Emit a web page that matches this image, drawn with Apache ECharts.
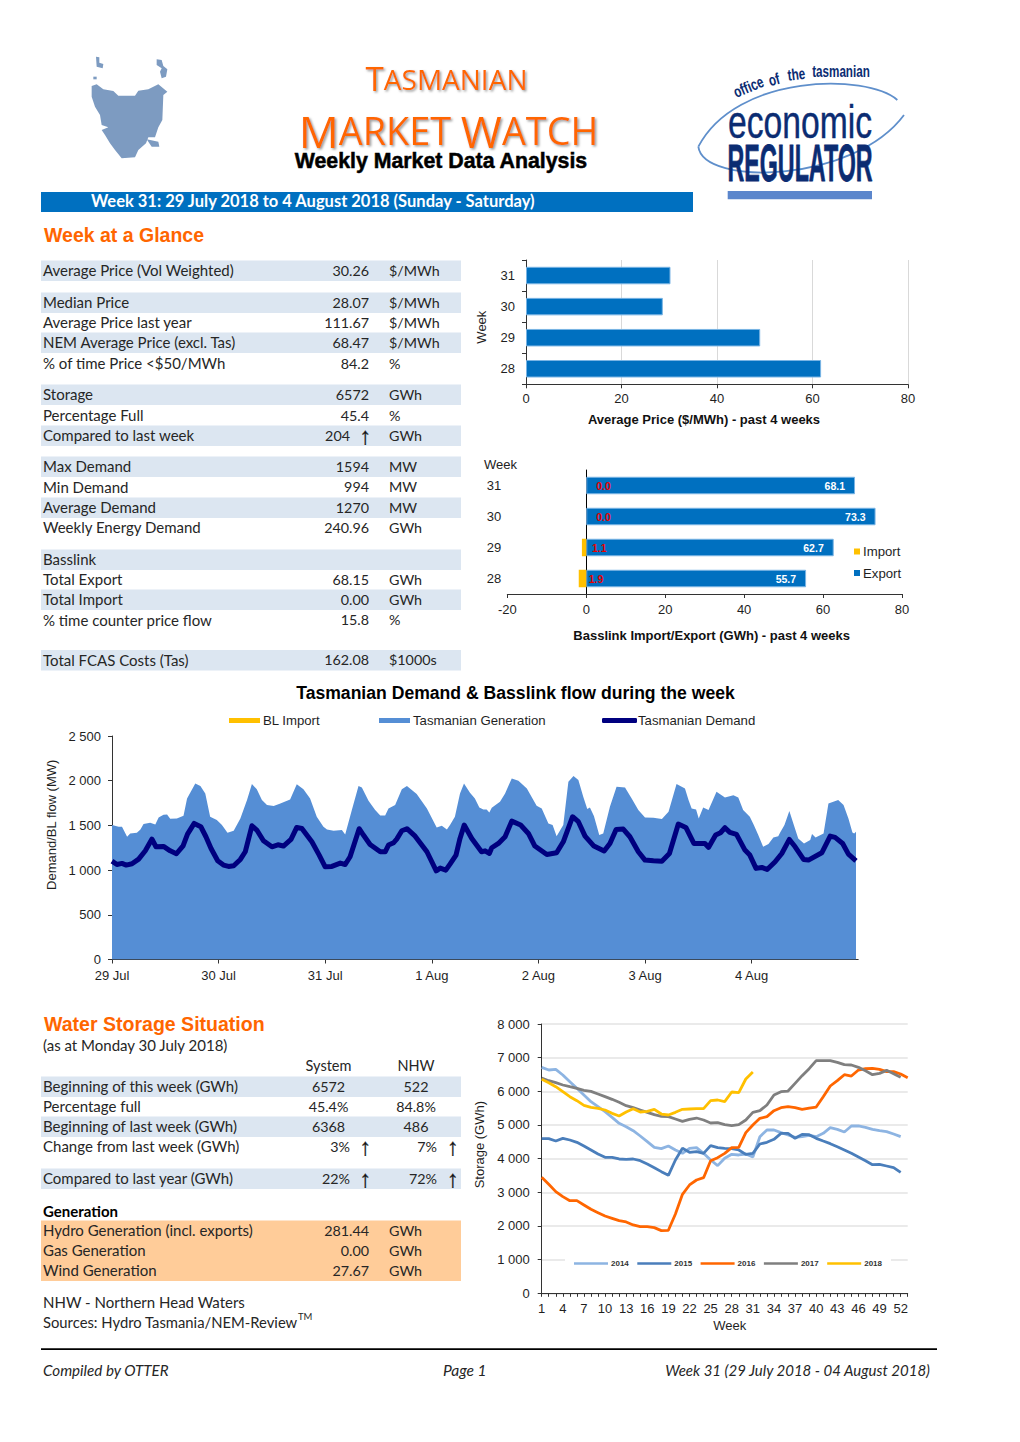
<!DOCTYPE html>
<html><head><meta charset="utf-8">
<style>html,body{margin:0;padding:0;background:#fff}#c{width:1020px;height:1442px}</style>
<script src="https://cdn.jsdelivr.net/npm/echarts@6/dist/echarts.min.js"></script>
</head><body><div id="c"></div>
<script>
// ---------- data ----------
const priceWeeks = ['28','29','30','31'];
const priceValues = [61.8, 49.05, 28.65, 30.26];
const basslinkWeeks = ['28','29','30','31'];
const importValues = [-1.9, -1.1, 0, 0];
const importLabels = ['1.9','1.1','0.0','0.0'];
const exportValues = [55.7, 62.7, 73.3, 68.1];
const dayLabels = ['29 Jul','30 Jul','31 Jul','1 Aug','2 Aug','3 Aug','4 Aug'];
const dayStartHours = [0,24,48,72,96,120,144];
const genHours = [0,1.5,2.25,3.4,4.1,5.6,6.4,7.1,8.6,9.75,10.5,11.6,12.4,13.1,14.6,16.1,16.9,18.75,19.9,21,22.1,23.6,24.75,26,27.4,28.9,30.4,31.5,32.6,33.75,34.9,36.4,37.9,40.1,41.6,43.1,44.6,46.1,47.6,48.4,49.9,51.75,52.5,54,55.5,56.25,57.75,59.25,60.4,61.5,62.25,63.75,65.25,66.4,68.6,70.9,73.1,74.25,75.4,76.1,77.2,78.35,79.25,80.6,81.7,82.7,83.6,84.35,84.95,85.5,87.35,88.5,90,91.5,93.4,95.6,96.75,98.25,99.2,100.1,101.6,102.75,103.9,105,106.1,107,107.6,108.5,109.7,110.6,112.1,113.6,115.5,117,118.5,120,121.9,123.8,125.3,127.1,129,129.8,130.5,131.5,132.1,133.1,134.3,136.1,138,139.9,141,142.1,143.6,144.5,145.5,146.6,147.8,148.9,150,150.4,151.4,152.5,153.4,154.5,155.8,157.2,157.6,158.4,160.2,161.3,163.5,164.7,165.8,166.7,167.1,167.5];
const genMW = [1504,1485,1485,1373,1410,1418,1455,1515,1530,1511,1589,1619,1623,1574,1578,1608,1802,1970,1940,1858,1597,1560,1504,1418,1440,1578,1783,1962,1903,1783,1727,1716,1746,1791,1959,1903,1802,1597,1485,1455,1440,1448,1399,1671,1940,1925,1776,1671,1612,1612,1690,1727,1903,1940,1851,1690,1477,1496,1455,1504,1597,1858,1970,1865,1802,1701,1679,1679,1645,1698,1765,1858,2026,2000,1914,1720,1690,1522,1504,1380,1504,1989,2052,2007,1821,1683,1701,1604,1392,1410,1709,1933,1925,1802,1671,1589,1586,1571,1653,1962,1914,1783,1690,1679,1578,1701,1671,1877,1813,1836,1813,1671,1597,1504,1392,1261,1291,1366,1380,1418,1504,1660,1522,1354,1298,1336,1403,1366,1410,1746,1783,1727,1578,1421,1410,1429];
const demandHours = [0,1.1,2.25,3.2,4.5,6,7.5,9,9.9,11.6,13.1,14.5,16,17,18.5,20,21.15,22.3,23.8,25.1,26.25,27.4,28.9,30,31.5,32.6,34.1,36,37.35,38.6,40.3,41.6,42.75,45,46.65,48,49.5,51.4,52.5,53.6,55.65,56.6,58.1,60.4,61.5,62.25,63.4,64.1,65.25,66.4,68.25,70.9,73,73.9,75.15,76.1,77.45,78.35,79.3,81,83.2,84,84.95,85.5,87,88.5,90,92,93.75,95.2,97.9,100.1,101.6,103.7,105,106.5,108.5,110.8,112.1,113.5,115.1,116.6,118.5,120,121.9,123.8,125.5,127.5,129.2,131,133.5,134.3,135.9,137,138,139.1,140.6,142.5,143.6,145,146.3,147.5,149.3,150.8,152.5,153.8,155.7,156.8,159.8,161.7,162.8,164.5,165.8,167.5];
const demandMW = [1100,1063,1075,1056,1071,1123,1216,1347,1261,1265,1216,1183,1272,1403,1522,1485,1373,1242,1104,1056,1041,1048,1119,1205,1496,1448,1328,1261,1283,1269,1343,1477,1466,1317,1168,1037,1041,1078,1063,1149,1463,1392,1287,1205,1205,1280,1306,1347,1440,1463,1380,1205,992,1022,1000,1067,1168,1354,1504,1354,1205,1216,1186,1250,1298,1373,1548,1504,1410,1269,1175,1194,1317,1597,1541,1380,1269,1213,1298,1455,1459,1373,1205,1112,1104,1100,1186,1515,1477,1298,1298,1254,1392,1418,1474,1422,1399,1224,1168,1019,1030,1007,1093,1186,1343,1261,1119,1112,1194,1380,1366,1298,1179,1104];
const weeks = ['1','2','3','4','5','6','7','8','9','10','11','12','13','14','15','16','17','18','19','20','21','22','23','24','25','26','27','28','29','30','31','32','33','34','35','36','37','38','39','40','41','42','43','44','45','46','47','48','49','50','51','52','53'];
const storage2014 = [6712,6633,6653,6485,6287,6089,5891,5693,5544,5396,5227,5049,4950,4831,4673,4505,4336,4297,4376,4257,4158,4307,4326,4158,3960,3792,4010,4128,4109,4138,4049,4653,4851,4851,4772,4703,4633,4653,4693,4653,4752,4920,4871,4792,4970,4970,4930,4871,4831,4802,4732,4653];
const storage2015 = [4594,4594,4524,4604,4554,4485,4376,4257,4138,4039,4039,3990,3980,3990,3940,3841,3732,3614,3505,3960,4307,4188,4208,4158,4386,4326,4307,4297,4257,4128,4158,4435,4485,4574,4752,4752,4604,4722,4712,4604,4524,4445,4356,4257,4158,4049,3940,3821,3831,3782,3732,3594];
const storage2016 = [3445,3237,3020,2871,2752,2752,2624,2495,2396,2297,2228,2158,2119,2030,1980,1980,1950,1861,1871,2356,2940,3218,3366,3435,3940,4029,4158,4326,4336,4772,5000,5198,5247,5425,5514,5544,5514,5465,5504,5534,5841,6158,6316,6494,6455,6633,6673,6683,6653,6584,6584,6514,6405];
const storage2017 = [6395,6316,6257,6188,6138,6089,6029,5999,5920,5841,5762,5673,5574,5514,5445,5376,5306,5257,5247,5178,5108,5168,5207,5148,5059,5069,5009,4980,5009,5148,5376,5425,5594,5891,5990,6009,6237,6465,6673,6910,6910,6910,6861,6791,6782,6712,6613,6494,6534,6623,6524,6415];
const storage2018 = [6356,6257,6138,5990,5841,5722,5584,5524,5495,5445,5346,5267,5386,5485,5386,5405,5465,5326,5297,5376,5465,5475,5485,5485,5722,5742,5693,5980,5960,6366,6572];

const glanceLabels = ['Average Price (Vol Weighted)','Median Price','Average Price last year','NEM Average Price (excl. Tas)','% of time Price <$50/MWh','Storage','Percentage Full','Compared to last week','Max Demand','Min Demand','Average Demand','Weekly Energy Demand','Basslink','Total Export','Total Import','% time counter price flow','Total FCAS Costs (Tas)'];
const glanceValues = ['30.26','28.07','111.67','68.47','84.2','6572','45.4','204','1594','994','1270','240.96','','68.15','0.00','15.8','162.08'];
const glanceUnits = ['$/MWh','$/MWh','$/MWh','$/MWh','%','GWh','%','GWh','MW','MW','MW','GWh','','GWh','GWh','%','$1000s'];
const waterLabels = ['Beginning of this week (GWh)','Percentage full','Beginning of last week (GWh)','Change from last week (GWh)','Compared to last year (GWh)'];
const waterSystem = ['6572','45.4%','6368','3%','22%'];
const waterNHW = ['522','84.8%','486','7%','72%'];
const genLabels = ['Hydro Generation (incl. exports)','Gas Generation','Wind Generation'];
const genValues = ['281.44','0.00','27.67'];

// ---------- layout and styles ----------
const glanceY = [271,303,323,343,364,395,416,436,467,487.5,508,528,560,580,600,620.5,660.5];
const glanceBand = [1,1,0,1,0,1,0,1,1,0,1,0,1,0,1,0,1];
const waterY = [1087,1107,1127,1147,1179];
const waterBand = [1,0,1,0,1];
const genY = [1231,1251,1271];
const ARIAL = '"Liberation Sans", Arial, sans-serif';
const BODY = 'Lato, sans-serif';
const NARROW = '"Liberation Sans", sans-serif';
const ORANGE = '#FF6600', BLUE = '#0070C0', NAVY = '#0B2C72', BAND = '#DCE6F1', INK = '#262626';
const BODY_SIZE = 15, NUM_SIZE = 14.3;

const els = [];
function T(text, x, y, o) {
  o = o || {};
  const st = {text, fontSize:o.size||BODY_SIZE, fontFamily:o.family||BODY, fontWeight:o.weight||'normal',
    fontStyle:o.italic?'italic':'normal', fill:o.color||INK, align:o.align||'left', verticalAlign:'middle'};
  if (o.rich) st.rich = o.rich;
  if (o.lineHeight) st.lineHeight = o.lineHeight;
  if (o.shadow) { st.textShadowColor=o.shadow; st.textShadowBlur=2; st.textShadowOffsetX=1.5; st.textShadowOffsetY=1.5; }
  if (o.stroke) { st.stroke=o.stroke; st.lineWidth=o.strokeW||0.3; }
  els.push({type:'text', x, y, rotation:o.rot||0, scaleX:o.sx||1, scaleY:o.sy||1, silent:true, z:10, style:st});
}
const N = (text,x,y,o)=>T(text,x,y-0.7,Object.assign({size:NUM_SIZE},o||{}));
const L = (text,x,y,o)=>T(text,x,y-0.7,o);
function R(x,y,w,h,fill,z){ els.push({type:'rect', silent:true, z:z||1, shape:{x,y,width:w,height:h}, style:{fill}}); }
function P(points, fill){ els.push({type:'polygon', silent:true, z:2, shape:{points}, style:{fill}}); }
function B(x1,y1,x2,y2,cx1,cy1,cx2,cy2,w){ els.push({type:'bezierCurve', silent:true, z:2, shape:{x1,y1,x2,y2,cpx1:cx1,cpy1:cy1,cpx2:cx2,cpy2:cy2}, style:{stroke:'#5F8FCB',fill:'none',lineWidth:w}}); }

// header: map logo
const mp = a => a.map(p=>[80+p[0]/3,50+p[1]/3]);
const MAPC = '#7D9BC1';
P(mp([[35,108],[50,103],[70,118],[100,123],[115,137],[165,137],[175,122],[205,118],[235,103],[262,125],[250,135],[247,210],[235,232],[225,262],[205,262],[198,280],[175,300],[165,322],[125,325],[105,300],[90,280],[75,255],[65,240],[85,232],[65,225],[60,195],[45,170],[35,140]]),MAPC);
P(mp([[200,268],[235,275],[238,290],[215,290]]),MAPC);
P(mp([[48,20],[58,22],[58,38],[70,42],[68,55],[50,50]]),MAPC);
P(mp([[230,28],[245,30],[250,48],[262,58],[258,80],[245,85],[240,65],[245,55],[230,45]]),MAPC);
P(mp([[40,80],[50,80],[50,88],[40,88]]),MAPC);

// title
T('{a|T}{b|ASMANIAN}',446.5,78.5,{align:'center',family:'"Open Sans"',color:ORANGE,shadow:'#999',
  rich:{a:{fontSize:33.2,fontFamily:'"Open Sans"',color:ORANGE},b:{fontSize:28,fontFamily:'"Open Sans"',color:ORANGE}}});
T('{a|M}{b|ARKET }{a|W}{b|ATCH}',448.5,130.5,{align:'center',family:'"Open Sans"',color:ORANGE,shadow:'#999',
  rich:{a:{fontSize:44.6,fontFamily:'"Open Sans"',color:ORANGE,lineHeight:36},b:{fontSize:37.8,fontFamily:'"Open Sans"',color:ORANGE,lineHeight:36}}});
T('Weekly Market Data Analysis',441,161,{align:'center',family:ARIAL,weight:'bold',size:21.3,color:'#000',stroke:'#000',strokeW:0.5,lineHeight:18});

// regulator logo
const lx = v=>680+v/3, ly = v=>50+v/3;
B(lx(652),ly(150),lx(55),ly(290),lx(560),ly(70),lx(170),ly(70),1.8);
B(lx(55),ly(290),lx(672),ly(195),lx(70),ly(410),lx(520),ly(400),1.8);
const small={family:NARROW,weight:'bold',size:16,color:NAVY,align:'center',sx:0.73};
T('office',lx(205),ly(110),Object.assign({rot:0.40},small));
T('of',lx(282),ly(88),Object.assign({rot:0.27},small));
T('the',lx(349),ly(72),Object.assign({rot:0.12},small));
T('tasmanian',lx(483),ly(64),Object.assign({rot:0},small));
T('economic',lx(360),ly(217),{family:NARROW,size:44,color:NAVY,align:'center',sx:0.765,sy:1.05,stroke:NAVY,strokeW:0.4,lineHeight:34});
T('REGULATOR',lx(360),ly(342),{family:NARROW,weight:'bold',size:52,color:NAVY,align:'center',sx:0.447,stroke:NAVY,strokeW:0.8,lineHeight:38});
R(727.7,191,144.3,8.3,'#5B86CC');

// banner and headings
R(41,192,652,20,BLUE);
T('Week 31: 29 July 2018 to 4 August 2018 (Sunday - Saturday)',91,201,{weight:'bold',color:'#fff',size:16.5});
T('Week at a Glance',44,235,{family:ARIAL,weight:'bold',size:19.5,color:ORANGE});
T('Tasmanian Demand & Basslink flow during the week',515.5,693,{family:ARIAL,weight:'bold',size:17.6,color:'#000',align:'center'});
T('Water Storage Situation',44,1023.5,{family:ARIAL,weight:'bold',size:19.55,color:ORANGE});
L('(as at Monday 30 July 2018)',43,1045.5);
T('Week',484,464.5,{family:ARIAL,size:13,color:'#222'});

function arrow(x,y){ T('↑',x,y,{family:ARIAL,size:24,color:'#111',align:'center',stroke:'#111',strokeW:0.3,lineHeight:14}); }

// Week at a Glance table
glanceLabels.forEach((lab,i)=>{
  const y=glanceY[i];
  if(glanceBand[i]) R(41,y-10.5,420,20.5,BAND);
  L(lab,43,y);
  const hasArrow = lab==='Compared to last week';
  if(glanceValues[i]) N(glanceValues[i],hasArrow?350:369,y,{align:'right'});
  if(hasArrow) arrow(365.5,y-0.5);
  if(glanceUnits[i]) N(glanceUnits[i],389,y);
});
// Water storage table
L('System',328.5,1066.5,{align:'center',size:14.5});
L('NHW',416,1066.5,{align:'center',size:14.5});
waterLabels.forEach((lab,i)=>{
  const y=waterY[i];
  if(waterBand[i]) R(41,y-10.5,420,20.5,BAND);
  L(lab,43,y);
  if(i<3){ N(waterSystem[i],328.5,y,{align:'center'}); N(waterNHW[i],416,y,{align:'center'}); }
  else { N(waterSystem[i],350,y,{align:'right'}); N(waterNHW[i],437,y,{align:'right'}); arrow(365.5,y-0.5); arrow(453,y-0.5); }
});
L('Generation',43,1211.5,{weight:'bold',color:'#000'});
R(41,1220.5,420,60.5,'#FFCC99');
genLabels.forEach((lab,i)=>{
  L(lab,43,genY[i]); N(genValues[i],369,genY[i],{align:'right'}); N('GWh',389,genY[i]);
});
L('NHW - Northern Head Waters',43,1302.5);
L('Sources: Hydro Tasmania/NEM-Review',43,1322.5,{size:14.8});
T('TM',298,1316,{size:9.5,lineHeight:9});
// footer
R(41,1348.3,896,1.6,'#000');
L('Compiled by OTTER',43,1371,{italic:true,size:15.2});
L('Page 1',443,1371,{italic:true,size:15.6});
L('Week 31 (29 July 2018 - 04 August 2018)',930,1371,{italic:true,align:'right'});

// ---------- charts ----------
const AXC='#333', LAB='#1f1f1f', FS=13;
const axisLine={show:true,lineStyle:{color:AXC,width:1}};
const tick={show:true,length:4,lineStyle:{color:AXC,width:1}};
const lab=(o)=>Object.assign({show:true,fontFamily:ARIAL,fontSize:FS,color:LAB},o||{});
const nameS=(o)=>Object.assign({fontFamily:ARIAL,fontSize:FS,color:LAB},o||{});
const titleS=(o)=>Object.assign({fontFamily:ARIAL,fontSize:13,fontWeight:'bold',color:'#111'},o||{});
const sp=v=>String(v).replace(/\B(?=(\d{3})+$)/g,' ');
const barBorder={borderColor:'#79B4E4',borderWidth:1};
const pairs=(a,b)=>a.map((v,i)=>[v,b[i]]);
const legendText=(pad)=>({fontFamily:ARIAL,fontSize:13.2,color:LAB,padding:[0,0,0,pad]});

const option={
  animation:false,
  textStyle:{fontFamily:ARIAL},
  grid:[
    {left:526,top:260,width:382,height:124.3,outerBoundsMode:'none'},
    {left:507.3,top:470,width:394.7,height:124,outerBoundsMode:'none'},
    {left:112,top:736,width:746.2,height:223.5,outerBoundsMode:'none'},
    {left:541.7,top:1024,width:366,height:269.3,outerBoundsMode:'none'}
  ],
  xAxis:[
    {gridIndex:0,type:'value',min:0,max:80,interval:20,axisLine,axisTick:tick,axisLabel:lab({margin:8}),
     splitLine:{show:true,lineStyle:{color:'#D9D9D9',width:1}},
     name:'Average Price ($/MWh) - past 4 weeks',nameLocation:'middle',nameGap:28.5,nameTextStyle:titleS({padding:[0,26,0,0]})},
    {gridIndex:1,type:'value',min:-20,max:80,interval:20,axisLine,axisTick:tick,axisLabel:lab({margin:9}),splitLine:{show:false},
     name:'Basslink Import/Export (GWh) - past 4 weeks',nameLocation:'middle',nameGap:35,nameTextStyle:titleS({padding:[0,0,0,14]})},
    {gridIndex:2,type:'value',min:0,max:168,interval:24,axisLine,axisTick:Object.assign({customValues:dayStartHours},tick),
     axisLabel:lab({margin:9,customValues:dayStartHours,formatter:v=>dayLabels[v/24]||''}),splitLine:{show:false}},
    {gridIndex:3,type:'category',data:weeks,boundaryGap:false,axisLine,axisTick:{show:true,length:3.5,interval:0,lineStyle:{color:AXC,width:1}},
     axisLabel:lab({margin:9,interval:2}),splitLine:{show:false},
     name:'Week',nameLocation:'middle',nameGap:26,nameTextStyle:nameS({padding:[0,0,0,10]})}
  ],
  yAxis:[
    {gridIndex:0,type:'category',data:priceWeeks,axisLine,axisTick:tick,axisLabel:lab({margin:11}),
     name:'Week',nameLocation:'middle',nameGap:38,nameTextStyle:nameS({padding:[0,10,0,0]})},
    {gridIndex:1,type:'category',data:basslinkWeeks,axisLine:{show:true,onZero:true,lineStyle:{color:'#000',width:1}},axisTick:{show:false},axisLabel:lab({margin:6})},
    {gridIndex:2,type:'value',min:0,max:2500,interval:500,axisLine,axisTick:tick,axisLabel:lab({margin:11,formatter:sp}),splitLine:{show:false},
     name:'Demand/BL flow (MW)',nameLocation:'middle',nameGap:44,nameTextStyle:nameS({padding:[0,0,0,46]})},
    {gridIndex:3,type:'value',min:0,max:8000,interval:1000,axisLine,axisTick:tick,axisLabel:lab({margin:12,formatter:sp}),
     splitLine:{show:true,lineStyle:{color:'#E3E3E3',width:1.5}},
     name:'Storage (GWh)',nameLocation:'middle',nameGap:56,nameTextStyle:nameS({padding:[0,0,0,28]})}
  ],
  legend:[
    {left:854,top:545,orient:'vertical',itemWidth:6,itemHeight:6,itemGap:8.5,padding:0,icon:'rect',itemStyle:{borderWidth:0},
     data:['Import','Export'],textStyle:legendText(-2)},
    {left:229,top:714,itemWidth:31,itemHeight:5,padding:0,icon:'rect',data:['BL Import'],textStyle:legendText(-2)},
    {left:379,top:714,itemWidth:31,itemHeight:5,padding:0,icon:'rect',data:['Tasmanian Generation'],textStyle:legendText(-2)},
    {left:602,top:714,itemWidth:35,itemHeight:5,padding:0,icon:'roundRect',data:['Tasmanian Demand'],textStyle:legendText(-4)},
    {left:565,top:1257.5,itemWidth:34,itemHeight:2.7,itemGap:8.5,padding:[2,9],icon:'rect',backgroundColor:'#fff',
     data:['2014','2015','2016','2017','2018'],textStyle:{fontFamily:ARIAL,fontSize:8,fontWeight:'bold',color:'#333',padding:[0,0,0,-2]}}
  ],
  series:[
    {name:'Average Price',type:'bar',xAxisIndex:0,yAxisIndex:0,data:priceValues,barWidth:17.5,itemStyle:Object.assign({color:BLUE},barBorder)},
    {name:'Export',type:'bar',xAxisIndex:1,yAxisIndex:1,data:exportValues,barWidth:17.5,barGap:'-100%',z:2,itemStyle:Object.assign({color:BLUE},barBorder),
     label:{show:true,position:'insideRight',distance:10,color:'#fff',fontFamily:ARIAL,fontSize:10.5,fontWeight:'bold',formatter:p=>p.value.toFixed(1)}},
    {name:'Import',type:'bar',xAxisIndex:1,yAxisIndex:1,data:importValues,barWidth:17.5,barGap:'-100%',z:3,itemStyle:{color:'#FFC000'},
     label:{show:true,position:'insideLeft',distance:10,color:'#E80000',fontFamily:ARIAL,fontSize:10.5,fontWeight:'bold',formatter:p=>importLabels[p.dataIndex]}},
    {name:'BL Import',type:'line',xAxisIndex:2,yAxisIndex:2,data:[[0,0],[167.5,0]],showSymbol:false,lineStyle:{width:0},itemStyle:{color:'#FFC000'}},
    {name:'Tasmanian Generation',type:'line',xAxisIndex:2,yAxisIndex:2,data:pairs(genHours,genMW),showSymbol:false,lineStyle:{width:0},itemStyle:{color:'#558ED5'},areaStyle:{color:'#558ED5',opacity:1}},
    {name:'Tasmanian Demand',type:'line',xAxisIndex:2,yAxisIndex:2,data:pairs(demandHours,demandMW),showSymbol:false,lineStyle:{color:'#00007F',width:5,join:'round'},itemStyle:{color:'#00007F'},z:4},
    {name:'2014',type:'line',xAxisIndex:3,yAxisIndex:3,data:storage2014,showSymbol:false,lineStyle:{width:2.8,color:'#8DB4E2'},itemStyle:{color:'#8DB4E2'}},
    {name:'2015',type:'line',xAxisIndex:3,yAxisIndex:3,data:storage2015,showSymbol:false,lineStyle:{width:2.8,color:'#4A7EBB'},itemStyle:{color:'#4A7EBB'}},
    {name:'2016',type:'line',xAxisIndex:3,yAxisIndex:3,data:storage2016,showSymbol:false,lineStyle:{width:2.8,color:'#FF6600'},itemStyle:{color:'#FF6600'}},
    {name:'2017',type:'line',xAxisIndex:3,yAxisIndex:3,data:storage2017,showSymbol:false,lineStyle:{width:2.8,color:'#7F7F7F'},itemStyle:{color:'#7F7F7F'}},
    {name:'2018',type:'line',xAxisIndex:3,yAxisIndex:3,data:storage2018,showSymbol:false,lineStyle:{width:2.8,color:'#FFC000'},itemStyle:{color:'#FFC000'}}
  ],
  graphic:{elements:els}
};
const chart=echarts.init(document.getElementById('c'),null,{renderer:'svg',width:1020,height:1442});
chart.setOption(option);
</script></body></html>
